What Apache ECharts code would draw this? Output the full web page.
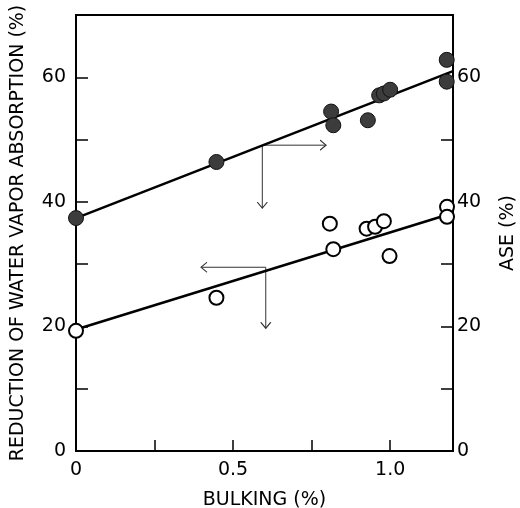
<!DOCTYPE html>
<html>
<head>
<meta charset="utf-8">
<script src="https://cdn.jsdelivr.net/npm/echarts@6/dist/echarts.min.js"></script>
<style>html,body{margin:0;padding:0;background:#fff}#c{width:520px;height:508px}</style>
</head>
<body>
<div id="c"></div>
<script>
// Data
var filledPoints = [[0,37.4],[0.447,46.4],[0.812,54.5],[0.819,52.3],[0.929,53.1],[0.965,57.1],[0.98,57.4],[1.0,58.0],[1.18,62.8],[1.18,59.3]];
var openPoints = [[0,19.3],[0.447,24.6],[0.808,36.5],[0.819,32.4],[0.925,35.7],[0.952,36.0],[0.98,36.9],[0.998,31.3],[1.181,39.2],[1.181,37.6]];
var filledFit = [[0,37.4],[1.2,61.0]];
var openFit = [[0,19.5],[1.2,38.2]];
var filledArrowCorner = [0.593,49.1], filledArrowRightEnd = [0.796,49.1], filledArrowDownEnd = [0.593,39.0];
var openArrowCorner = [0.604,29.5], openArrowLeftEnd = [0.398,29.5], openArrowDownEnd = [0.604,19.7];
var xTickLabels = {"0":"0","0.5":"0.5","1":"1.0"};
var yTickLabels = [0,20,40,60];

var FONT = 'DejaVu Sans';
var RIGHT = 'path://M0,0L10,5L0,10';
var LEFT = 'path://M10,0L0,5L10,10';
var DOWN = 'path://M0,0L5,10L10,0';

function arrow(start, end, sym, size, offset) {
  return {
    type: 'line', yAxisIndex: 0, z: 1, silent: true,
    lineStyle: {color: '#333', width: 1},
    itemStyle: {color: 'rgba(0,0,0,0)', borderColor: '#333', borderWidth: 1},
    data: [{value: start, symbol: 'none'}, {value: end, symbol: sym, symbolSize: size, symbolOffset: offset}],
    showAllSymbol: true, animation: false
  };
}

var chart = echarts.init(document.getElementById('c'), null, {renderer: 'canvas'});
var yLabelFmt = function (v) { return yTickLabels.indexOf(v) >= 0 ? String(v) : ''; };
var yCommon = {
  type: 'value', min: 0, max: 70, interval: 10,
  splitLine: {show: false},
  axisLine: {show: true, lineStyle: {color: '#000', width: 2}},
  axisTick: {show: true, inside: true, length: 12, lineStyle: {color: '#000', width: 1.5}},
  nameLocation: 'middle',
  nameTextStyle: {fontFamily: FONT, fontSize: 19, color: '#000'}
};
chart.setOption({
  animation: false,
  grid: {left: 76, right: 67, top: 15, bottom: 57, show: true, borderColor: '#000', borderWidth: 2, backgroundColor: 'transparent', containLabel: false, outerBoundsMode: 'none'},
  xAxis: {
    type: 'value', min: 0, max: 1.2, interval: 0.25,
    splitLine: {show: false},
    axisLine: {lineStyle: {color: '#000', width: 2}},
    axisTick: {inside: true, length: 11, lineStyle: {color: '#000', width: 1.5}},
    axisLabel: {formatter: function (v) { return xTickLabels[String(v)] || ''; }, fontFamily: FONT, fontSize: 19, color: '#000', margin: 10},
    name: 'BULKING (%)', nameLocation: 'middle', nameGap: 40,
    nameTextStyle: {fontFamily: FONT, fontSize: 19, color: '#000'}
  },
  yAxis: [
    Object.assign({}, yCommon, {
      position: 'left', name: 'REDUCTION OF WATER VAPOR ABSORPTION (%)', nameGap: 48,
      axisLabel: {formatter: yLabelFmt, fontFamily: FONT, fontSize: 19, color: '#000', margin: 10}
    }),
    Object.assign({}, yCommon, {
      position: 'right', name: 'ASE (%)', nameGap: 46, nameRotate: 90,
      axisLabel: {formatter: yLabelFmt, fontFamily: FONT, fontSize: 19, color: '#000', margin: 4}
    })
  ],
  series: [
    {type: 'line', data: filledFit, symbol: 'none', lineStyle: {color: '#000', width: 2.5}, z: 2},
    {type: 'line', data: openFit, symbol: 'none', lineStyle: {color: '#000', width: 2.5}, z: 2},
    arrow(filledArrowCorner, filledArrowRightEnd, RIGHT, [6, 10], [-3, 0]),
    arrow(filledArrowCorner, filledArrowDownEnd, DOWN, [10, 6], [0, -3]),
    arrow(openArrowCorner, openArrowLeftEnd, LEFT, [6, 10], [3, 0]),
    arrow(openArrowCorner, openArrowDownEnd, DOWN, [10, 6], [0, -3]),
    {type: 'scatter', data: filledPoints, symbol: 'circle', symbolSize: 15, z: 5,
     itemStyle: {color: '#3c3c3c', borderColor: '#111', borderWidth: 1, opacity: 1}},
    {type: 'scatter', data: openPoints, symbol: 'circle', symbolSize: 14, z: 5,
     itemStyle: {color: '#fff', borderColor: '#000', borderWidth: 2, opacity: 1}}
  ]
});
</script>
</body>
</html>
